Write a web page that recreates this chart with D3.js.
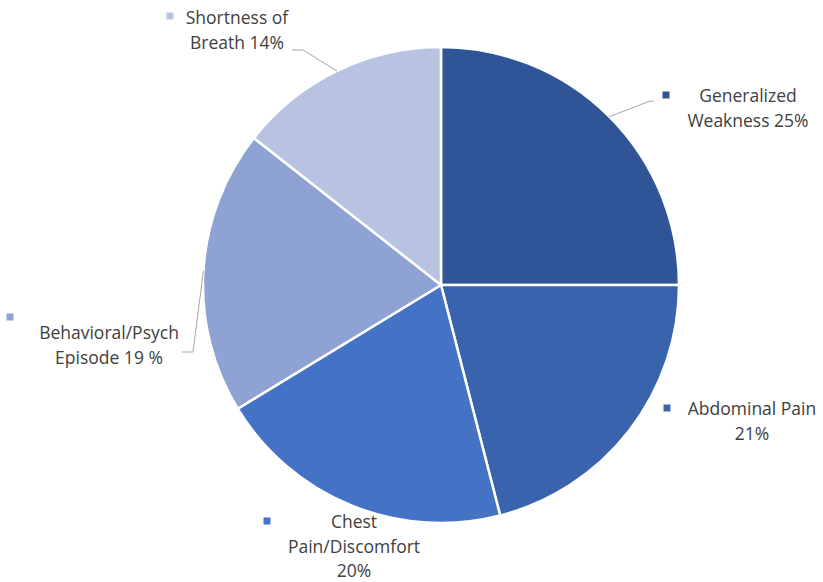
<!DOCTYPE html>
<html>
<head>
<meta charset="utf-8">
<script src="https://cdn.jsdelivr.net/npm/d3@7"></script>
<style>
  body { margin: 0; background: #fff; }
  text { font-family: "Open Sans", "Liberation Sans", sans-serif; fill: #404040; }
</style>
</head>
<body>
<div id="chart"></div>
<script>
// slices, clockwise from 12 o'clock
const categories = ["Generalized Weakness", "Abdominal Pain", "Chest Pain/Discomfort", "Behavioral/Psych Episode", "Shortness of Breath"];
const values = [25, 21, 20.3, 19.3, 14.4];
const colors = ["#2f5597", "#3a63ae", "#4472c4", "#8fa2d4", "#b8c3e2"];
// label text lines as printed on the chart
const labelLines = [
  ["Generalized", "Weakness 25%"],
  ["Abdominal Pain", "21%"],
  ["Chest", "Pain/Discomfort", "20%"],
  ["Behavioral/Psych", "Episode 19 %"],
  ["Shortness of", "Breath 14%"]
];

const width = 823, height = 582;
const cx = 441, cy = 285, radius = 238;

const svg = d3.select("#chart").append("svg")
  .attr("width", width)
  .attr("height", height);

const g = svg.append("g").attr("transform", "translate(" + cx + "," + cy + ")");

const pie = d3.pie().sort(null).value(d => d.v);
const arcs = pie(categories.map((c, i) => ({c: c, v: values[i], i: i})));
const arc = d3.arc().innerRadius(0).outerRadius(radius);

g.selectAll("path.slice")
  .data(arcs)
  .enter()
  .append("path")
  .attr("class", "slice")
  .attr("d", arc)
  .attr("fill", d => colors[d.data.i])
  .attr("stroke", "#fff")
  .attr("stroke-width", 2.5)
  .attr("stroke-linejoin", "round");

// label layout: center x of text block, first baseline, marker pos
const labelPos = [
  {x: 748, y: 102, mx: 666, my: 95},
  {x: 752, y: 415, mx: 667, my: 408},
  {x: 354, y: 528, mx: 267, my: 521},
  {x: 109, y: 339, mx: 10, my: 317},
  {x: 237, y: 24, mx: 170, my: 16}
];
const lineH = 24.5;

// leader lines (end points relative to page)
const leaderEnds = [
  [[650, 101], [654, 101]],
  null,
  null,
  [[193, 352], [182, 352]],
  [[303, 50], [292, 50]]
];

arcs.forEach((d, i) => {
  const pts = leaderEnds[i];
  if (!pts) return;
  const mid = (d.startAngle + d.endAngle) / 2;
  const start = [cx + radius * Math.sin(mid), cy - radius * Math.cos(mid)];
  svg.append("polyline")
    .attr("points", [start].concat(pts).map(p => p.join(",")).join(" "))
    .attr("fill", "none")
    .attr("stroke", "#a6a6a6")
    .attr("stroke-width", 1);
});

labelPos.forEach((p, i) => {
  svg.append("rect")
    .attr("x", p.mx - 3.5)
    .attr("y", p.my - 3.5)
    .attr("width", 7)
    .attr("height", 7)
    .attr("fill", colors[i]);
  const t = svg.append("text")
    .attr("text-anchor", "middle")
    .style("font-size", "17.5px");
  labelLines[i].forEach((ln, j) => {
    t.append("tspan")
      .attr("x", p.x)
      .attr("y", p.y + j * lineH)
      .text(ln);
  });
});
</script>
</body>
</html>
